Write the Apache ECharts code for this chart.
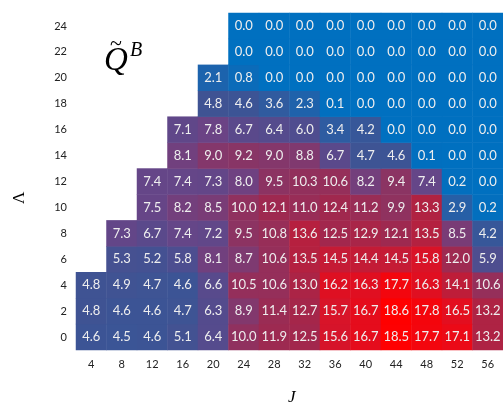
<!DOCTYPE html>
<html><head><meta charset="utf-8">
<script src="https://cdn.jsdelivr.net/npm/echarts@6/dist/echarts.min.js"></script>
<style>html,body{margin:0;padding:0;background:#fff}#c{width:503px;height:402px}</style>
</head><body><div id="c"></div>
<script>
const xCats = ['4','8','12','16','20','24','28','32','36','40','44','48','52','56'];
const yCats = ['0','2','4','6','8','10','12','14','16','18','20','22','24'];
// each row: [first column index, values...]
const row0  = [0, 4.6, 4.5, 4.6, 5.1, 6.4, 10.0, 11.9, 12.5, 15.6, 16.7, 18.5, 17.7, 17.1, 13.2];
const row2  = [0, 4.8, 4.6, 4.6, 4.7, 6.3, 8.9, 11.4, 12.7, 15.7, 16.7, 18.6, 17.8, 16.5, 13.2];
const row4  = [0, 4.8, 4.9, 4.7, 4.6, 6.6, 10.5, 10.6, 13.0, 16.2, 16.3, 17.7, 16.3, 14.1, 10.6];
const row6  = [1, 5.3, 5.2, 5.8, 8.1, 8.7, 10.6, 13.5, 14.5, 14.4, 14.5, 15.8, 12.0, 5.9];
const row8  = [1, 7.3, 6.7, 7.4, 7.2, 9.5, 10.8, 13.6, 12.5, 12.9, 12.1, 13.5, 8.5, 4.2];
const row10 = [2, 7.5, 8.2, 8.5, 10.0, 12.1, 11.0, 12.4, 11.2, 9.9, 13.3, 2.9, 0.2];
const row12 = [2, 7.4, 7.4, 7.3, 8.0, 9.5, 10.3, 10.6, 8.2, 9.4, 7.4, 0.2, 0.0];
const row14 = [3, 8.1, 9.0, 9.2, 9.0, 8.8, 6.7, 4.7, 4.6, 0.1, 0.0, 0.0];
const row16 = [3, 7.1, 7.8, 6.7, 6.4, 6.0, 3.4, 4.2, 0.0, 0.0, 0.0, 0.0];
const row18 = [4, 4.8, 4.6, 3.6, 2.3, 0.1, 0.0, 0.0, 0.0, 0.0, 0.0];
const row20 = [4, 2.1, 0.8, 0.0, 0.0, 0.0, 0.0, 0.0, 0.0, 0.0, 0.0];
const row22 = [5, 0.0, 0.0, 0.0, 0.0, 0.0, 0.0, 0.0, 0.0, 0.0];
const row24 = [5, 0.0, 0.0, 0.0, 0.0, 0.0, 0.0, 0.0, 0.0, 0.0];
const rows = [row0,row2,row4,row6,row8,row10,row12,row14,row16,row18,row20,row22,row24];

const data = [];
rows.forEach((r, yi) => {
  const start = r[0];
  for (let k = 1; k < r.length; k++) data.push([start + k - 1, yi, r[k]]);
});

const chart = echarts.init(document.getElementById('c'));
chart.setOption({
  animation: false,
  grid: {left: 76, top: 13, width: 431, height: 337},
  xAxis: {type: 'category', data: xCats,
    axisLine: {show: false}, axisTick: {show: false}, splitLine: {show: false},
    axisLabel: {color: '#222', fontFamily: 'Lato', fontSize: 11, margin: 9}},
  yAxis: {type: 'category', data: yCats,
    axisLine: {show: false}, axisTick: {show: false}, splitLine: {show: false},
    axisLabel: {color: '#222', fontFamily: 'Lato', fontSize: 11, margin: 9}},
  visualMap: {show: false, min: 0, max: 18.6, calculable: false,
    inRange: {color: ['#0070C0','#1566B2','#2A5EA4','#3D5494','#524C8E','#6A4486','#8A3464','#972E58','#A0284E','#BC1E3A','#D5152B','#EA0A18','#FF0000']}},
  series: [{type: 'heatmap', data: data,
    label: {show: true, color: '#EEEEEE', fontFamily: 'Lato', fontSize: 13,
      formatter: p => p.value[2].toFixed(1)},
    emphasis: {disabled: true}}],
  graphic: [
    {type: 'text', left: 104, top: 45, style: {text: 'Q', font: 'italic 33px "Liberation Serif"', fill: '#000'}},
    {type: 'text', left: 110, top: 33, style: {text: '~', font: '22px "Liberation Serif"', fill: '#000'}},
    {type: 'text', left: 130, top: 41, style: {text: 'B', font: 'italic 20px "Liberation Serif"', fill: '#000'}},
    {type: 'text', x: 11, y: 204, rotation: Math.PI/2, style: {text: 'Λ', font: '17px "Liberation Serif"', fill: '#000'}},
    {type: 'text', left: 288, top: 389, style: {text: 'J', font: 'italic 17px "Liberation Serif"', fill: '#000'}}
  ]
});
</script></body></html>
